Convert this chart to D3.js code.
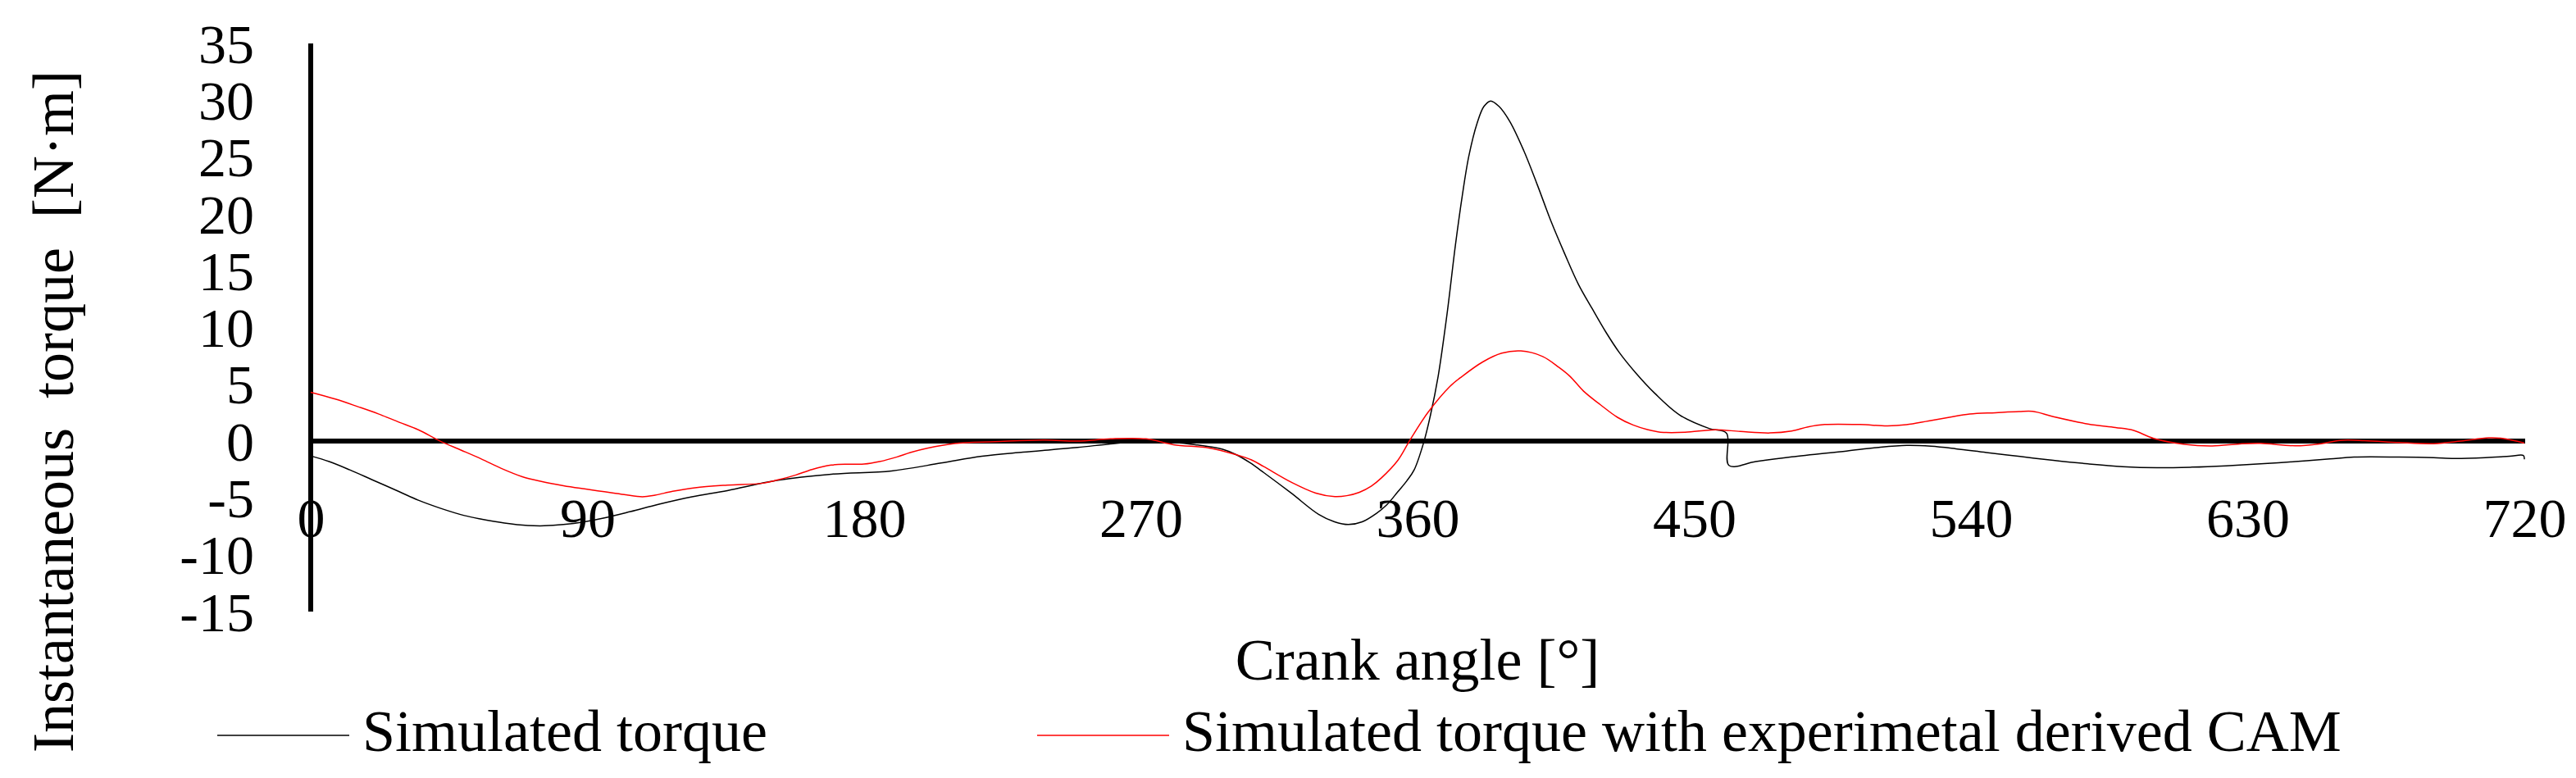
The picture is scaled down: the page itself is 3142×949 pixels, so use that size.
<!DOCTYPE html>
<html>
<head>
<meta charset="utf-8">
<script src="https://cdn.jsdelivr.net/npm/d3@7"></script>
<style>
  html, body { margin: 0; padding: 0; background: #fff; }
  svg text { font-family: "Liberation Serif", "Times New Roman", serif; fill: #000; white-space: pre; }
</style>
</head>
<body>
<svg id="chart"></svg>
<script>
/* ============================================================
   Instantaneous torque vs crank angle
   two series
============================================================ */

// ---------- data ----------
const seriesNames = ["Simulated torque", "Simulated torque with experimetal derived CAM"];
const seriesColors = ["#000000", "#ff0000"];

const xTicks = [0, 90, 180, 270, 360, 450, 540, 630, 720];
const yTicks = [-15, -10, -5, 0, 5, 10, 15, 20, 25, 30, 35];

// series 1 : simulated torque
const angleSim = [0, 6, 12.7, 20, 28.8, 35, 42.1, 50, 55.5, 63, 70.6, 76, 82.2, 89, 95.5, 104,
  113.3, 124, 135.5, 151.6, 169.3, 188.9, 205, 218.3, 231.7, 249.4, 260.1, 271.7, 280, 287.7,
  296.6, 301.1, 305.5, 310, 318.9, 327.8, 333, 337.5, 342, 346.5, 350, 353.6, 356.5, 358.9,
  362, 364.2, 366.7, 369.6, 372.3, 374.5, 376.7, 379.4, 381.6, 383.8, 386.5, 390, 394.5, 398.9,
  403.4, 407.9, 412.3, 416.8, 421.2, 425.6, 431, 437.2, 445.2, 455, 460.5, 461.3, 470, 481.7,
  499.5, 510, 519.1, 527, 535.1, 545, 556, 566.8, 578.1, 589.3, 600.5, 611.8, 623, 634.2, 645.5,
  656.7, 664.6, 679.2, 690.5, 697.2, 707.3, 715.2, 719.7, 720];
const torqueSim = [-1.3, -1.8, -2.53, -3.4, -4.45, -5.2, -5.9, -6.55, -6.86, -7.2, -7.42, -7.45,
  -7.34, -7.1, -6.76, -6.2, -5.55, -4.9, -4.35, -3.46, -2.91, -2.62, -1.93, -1.33, -0.97, -0.56,
  -0.24, 0, -0.1, -0.31, -0.72, -1.2, -1.9, -2.77, -4.57, -6.44, -7.1, -7.34, -7.1, -6.38, -5.6,
  -4.45, -3.5, -2.53, -0.12, 2.28, 5.7, 11.2, 17.2, 21.5, 25.1, 28.0, 29.46, 29.94, 29.46, 28.14,
  25.6, 22.6, 19.36, 16.47, 13.82, 11.66, 9.62, 7.81, 6.0, 4.2, 2.31, 1.1, 0.7, -2.14, -1.8,
  -1.39, -0.87, -0.55, -0.38, -0.45, -0.67, -1.0, -1.35, -1.69, -2.0, -2.24, -2.34, -2.29, -2.17,
  -2.0, -1.8, -1.57, -1.4, -1.4, -1.45, -1.52, -1.45, -1.33, -1.26, -1.6];

// series 2 : simulated torque with experimental CAM
const angleCam = [0, 8, 15.4, 22, 28.8, 35, 42.1, 49, 55.5, 62, 68.8, 75, 82.2, 89, 95.5, 102,
  107.9, 112, 117.7, 125, 135.5, 147.1, 152, 157.8, 163, 169.3, 175, 180, 185, 190.7, 195,
  200.5, 209.4, 222.7, 238.8, 249.4, 260.1, 271.7, 280.6, 292.2, 301.1, 306, 310, 318.9, 326.9,
  333.1, 337, 341.1, 345, 348.2, 353.6, 357.6, 363.4, 370.5, 374.5, 381.2, 387.4, 393.6, 400.7,
  406, 409.6, 414, 419.5, 425, 430.1, 435, 439, 447, 456.8, 465, 474.6, 481.7, 487, 492.4, 503.9,
  512.9, 519, 526.2, 533, 539.6, 548, 555.6, 560.1, 566.8, 578.1, 587, 592.7, 599.4, 609.5,
  618.5, 627.5, 634.2, 645.5, 653.4, 660.1, 668, 679.2, 690.5, 699.4, 708.4, 712.9, 720];
const torqueCam = [4.3, 3.7, 3.03, 2.4, 1.66, 1.0, 0, -0.8, -1.57, -2.4, -3.13, -3.55, -3.92,
  -4.2, -4.45, -4.7, -4.89, -4.75, -4.42, -4.1, -3.87, -3.7, -3.4, -2.98, -2.5, -2.11, -2.03,
  -2.02, -1.8, -1.39, -1.0, -0.62, -0.21, -0.05, 0.1, 0, 0.2, 0.2, -0.31, -0.6, -1.2, -1.65,
  -2.24, -3.61, -4.57, -4.88, -4.8, -4.5, -3.95, -3.25, -1.69, 0.12, 2.53, 4.81, 5.7, 6.97,
  7.74, 7.94, 7.45, 6.49, 5.7, 4.4, 3.2, 2.1, 1.42, 1.0, 0.79, 0.78, 1.0, 0.85, 0.72, 0.89,
  1.25, 1.46, 1.46, 1.34, 1.45, 1.78, 2.1, 2.38, 2.5, 2.6, 2.62, 2.16, 1.51, 1.2, 0.96, 0.24,
  -0.29, -0.43, -0.24, -0.19, -0.41, -0.24, 0.07, 0.05, -0.12, -0.22, 0, 0.29, 0.24, -0.17];


// ---------- svg ----------
const WIDTH = 3142;
const HEIGHT = 949;

const svg = d3.select("#chart")
  .attr("width", WIDTH)
  .attr("height", HEIGHT)
  .attr("viewBox", `0 0 ${WIDTH} ${HEIGHT}`);

// plot area (axis crosses at 0)
const x = d3.scaleLinear().domain([0, 720]).range([379, 3079]);
const y = d3.scaleLinear().domain([-15, 35]).range([746, 53]);

// plain hyphen for negatives, like the original
const plainNumber = (d) => String(d);


// ---------- y axis : thick line + labels on the left ----------
const yAxis = d3.axisLeft(y)
  .tickValues(yTicks)
  .tickSize(0)
  .tickPadding(69)
  .tickFormat(plainNumber);

const yG = svg.append("g")
  .attr("transform", `translate(${x(0)},0)`)
  .call(yAxis);
yG.select(".domain")
  .attr("stroke", "#000")
  .attr("stroke-width", 6)
  .attr("d", `M0,${y(35)}V${y(-15)}`);
yG.selectAll("text")
  .attr("font-size", 68)
  .attr("font-family", null)
  .attr("dy", "0.34em");


// ---------- x axis : thick zero line, labels sitting well below ----------
const xAxis = d3.axisBottom(x)
  .tickValues(xTicks)
  .tickSize(0)
  .tickPadding(0)
  .tickFormat(plainNumber);

const xG = svg.append("g")
  .attr("transform", `translate(0,${y(0)})`)
  .call(xAxis);
xG.select(".domain")
  .attr("stroke", "#000")
  .attr("stroke-width", 6)
  .attr("d", `M${x(0)},0H${x(720) + 1}`);
xG.selectAll("text")
  .attr("font-size", 68)
  .attr("font-family", null)
  .attr("y", 655 - y(0))
  .attr("dy", 0);


// ---------- series lines ----------
// centripetal Catmull-Rom : smooth through the points without big overshoot
const line = d3.line()
  .x((d) => x(d[0]))
  .y((d) => y(d[1]))
  .curve(d3.curveCatmullRom.alpha(0.5));

const series = [
  d3.zip(angleSim, torqueSim),
  d3.zip(angleCam, torqueCam)
];

svg.append("g")
  .selectAll("path")
  .data(series)
  .join("path")
  .attr("fill", "none")
  .attr("stroke", (d, i) => seriesColors[i])
  .attr("stroke-width", 1.5)
  .attr("stroke-linejoin", "round")
  .attr("d", line);


// ---------- axis titles ----------
svg.append("text")
  .attr("x", (x(0) + x(720)) / 2)
  .attr("y", 829)
  .attr("text-anchor", "middle")
  .attr("font-size", 72)
  .text("Crank angle [°]");

svg.append("text")
  .attr("transform", "translate(89,502) rotate(-90)")
  .attr("text-anchor", "middle")
  .attr("font-size", 72)
  .text("Instantaneous  torque  [N·m]");


// ---------- legend ----------
const legendX = [265, 1265];

const legend = svg.append("g")
  .selectAll("g")
  .data(seriesNames)
  .join("g")
  .attr("transform", (d, i) => `translate(${legendX[i]},897)`);

legend.append("line")
  .attr("x1", 0)
  .attr("x2", 161)
  .attr("stroke", (d, i) => seriesColors[i])
  .attr("stroke-width", 1.5);

legend.append("text")
  .attr("x", 177)
  .attr("y", 19)
  .attr("font-size", 72)
  .text((d) => d);
</script>
</body>
</html>
